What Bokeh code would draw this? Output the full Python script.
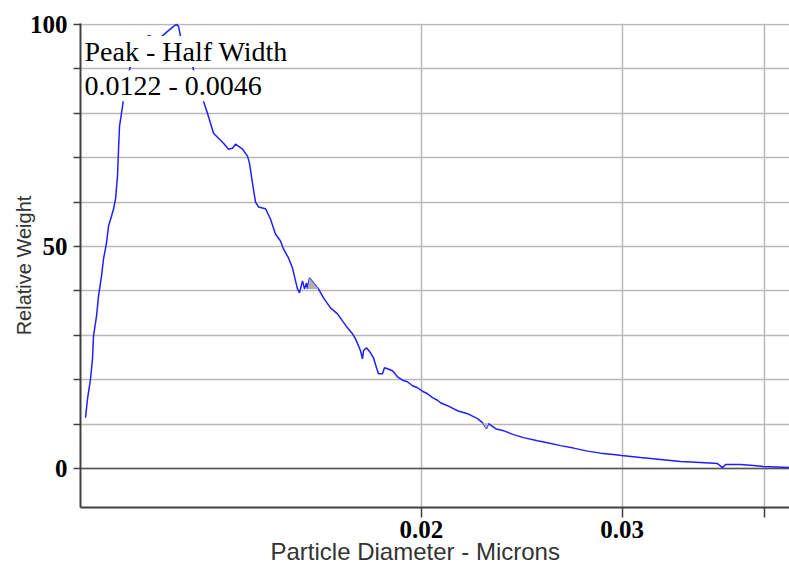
from bokeh.plotting import figure
from bokeh.models import FixedTicker, Label, Span, CustomJSTickFormatter, Title
from bokeh.embed import file_html
from bokeh.resources import INLINE

# Particle diameter (microns) and relative weight
diameter = [
    0.010146, 0.010188, 0.01025, 0.01029, 0.010312, 0.010375, 0.010417, 0.01048, 0.010522, 0.010586,
    0.010629, 0.010694, 0.010737, 0.01078, 0.010824, 0.010846, 0.010868, 0.010934, 0.010956, 0.011067,
    0.011112, 0.011408, 0.011524, 0.011758, 0.011974, 0.01212, 0.012194, 0.012243, 0.012317, 0.012594,
    0.01267, 0.012876, 0.012981, 0.01306, 0.01314, 0.013273, 0.013408, 0.013544, 0.013654, 0.013737,
    0.013933, 0.014073, 0.01413, 0.014216, 0.014303, 0.01439, 0.014595, 0.014742, 0.014891, 0.015043,
    0.015135, 0.015288, 0.015412, 0.015506, 0.015569, 0.015632, 0.015727, 0.015791, 0.015855, 0.015887,
    0.015951, 0.01608, 0.016243, 0.016408, 0.016642, 0.01688, 0.01705, 0.017223, 0.017398, 0.017504,
    0.01761, 0.017682, 0.017753, 0.017789, 0.017897, 0.018043, 0.018152, 0.018262, 0.018336, 0.018485,
    0.01856, 0.018673, 0.018862, 0.019054, 0.019247, 0.019442, 0.01964, 0.019839, 0.02004, 0.020244,
    0.02045, 0.020657, 0.020782, 0.021078, 0.021508, 0.021947, 0.022395, 0.022622, 0.022806, 0.022898,
    0.023224, 0.023602, 0.024084, 0.024576, 0.02528, 0.025796, 0.026482, 0.027188, 0.027968, 0.028712,
    0.029474, 0.029954, 0.031126, 0.03241, 0.033746, 0.035136, 0.036364, 0.036734, 0.036958, 0.038094,
    0.039108, 0.039906, 0.042058,
]
weight = [
    11.46, 15.73, 20.22, 24.72, 29.89, 34.38, 38.88, 43.37, 47.19, 50.79,
    54.61, 56.85, 58.43, 60.67, 65.84, 71.91, 77.08, 81.57, 83.15, 88.99,
    90.56, 96.18, 97.53, 96.63, 98.43, 99.55, 100.0, 99.55, 96.18, 90.56,
    88.31, 82.70, 80.0, 77.75, 75.51, 74.38, 73.26, 71.91, 72.13, 73.03,
    71.91, 70.34, 68.76, 64.27, 60.0, 58.9, 58.5, 56.18, 52.81, 51.24,
    49.44, 47.42, 45.17, 42.25, 40.45, 39.55, 42.25, 40.45, 41.80, 40.45,
    42.92, 41.80, 40.45, 38.43, 36.18, 34.83, 33.26, 31.69, 30.34, 29.21,
    27.64, 26.52, 24.72, 26.52, 27.19, 26.07, 24.94, 22.70, 21.35, 21.35,
    22.70, 22.47, 22.02, 20.67, 19.89, 19.55, 18.65, 18.20, 17.42, 16.85,
    15.96, 15.39, 14.83, 14.16, 13.03, 12.36, 11.24, 10.34, 8.99, 10.11,
    8.99, 8.54, 7.64, 6.97, 6.29, 5.84, 5.17, 4.61, 3.93, 3.48,
    3.15, 2.92, 2.47, 2.02, 1.57, 1.35, 1.12, 0.22, 0.90, 0.90,
    0.67, 0.45, 0.22,
]
x_ticks = [0.02, 0.03, 0.04]
y_ticks = [0, 50, 100]
y_minor = [10, 20, 30, 40, 60, 70, 80, 90]
peak_title = "Peak - Half Width"
peak_value = "0.0122 - 0.0046"
x_title = "Particle Diameter - Microns"
y_title = "Relative Weight"

p = figure(width=789, height=564, x_axis_type="log",
           x_range=(0.010044, 0.042058), y_range=(-8.76, 100.2),
           output_backend="svg", toolbar_location=None,
           min_border_left=80, min_border_right=0, min_border_top=23, min_border_bottom=57)
p.outline_line_color = None
p.background_fill_color = "white"
p.border_fill_color = "white"

# grids
p.xaxis.ticker = FixedTicker(ticks=x_ticks)
p.xgrid.ticker = FixedTicker(ticks=x_ticks)
p.yaxis.ticker = FixedTicker(ticks=y_ticks, minor_ticks=y_minor)
p.ygrid.ticker = FixedTicker(ticks=y_ticks, minor_ticks=y_minor)
for g in (p.xgrid, p.ygrid):
    g.grid_line_color = "#b8b8b8"
    g.grid_line_width = 1.5
p.ygrid.minor_grid_line_color = "#b8b8b8"
p.ygrid.minor_grid_line_width = 1.5
p.add_layout(Span(location=0, dimension="width", line_color="#555555", line_width=1.5, level="underlay"))

# axes
p.xaxis.formatter = CustomJSTickFormatter(code="return tick < 0.035 ? tick.toFixed(2) : '';")
for ax in (p.xaxis, p.yaxis):
    ax.axis_line_color = "#404040"
    ax.axis_line_width = 2
    ax.major_tick_line_color = "#404040"
    ax.major_tick_line_width = 1.5
    ax.major_tick_in = 0
    ax.minor_tick_in = 0
    ax.major_label_text_font = "Liberation Serif"
    ax.major_label_text_font_style = "bold"
    ax.major_label_text_color = "black"
    ax.major_label_text_font_size = "25px"
p.xaxis.major_tick_out = 10
p.xaxis.minor_tick_line_color = None
p.yaxis.major_tick_out = 7
p.yaxis.minor_tick_out = 7
p.yaxis.minor_tick_line_color = "#404040"
p.yaxis.minor_tick_line_width = 1.5
p.yaxis.major_label_standoff = 6
p.xaxis.major_label_standoff = 3

# y axis title
p.yaxis.axis_label = y_title
p.yaxis.axis_label_text_font = "Liberation Sans"
p.yaxis.axis_label_text_font_style = "normal"
p.yaxis.axis_label_text_font_size = "20px"
p.yaxis.axis_label_text_color = "#333333"
p.yaxis.axis_label_standoff = -8

# x axis title (left aligned, shifted to match)
p.add_layout(Title(text=x_title, align="left", offset=190, standoff=-9,
                   text_font="Liberation Sans", text_font_style="normal",
                   text_font_size="24px", text_color="#333333"), "below")

# curve
p.line(diameter, weight, line_color="#2020ff", line_width=1.5)
p.patch(diameter[59:63], weight[59:63], fill_color="#b0b0b0", line_color=None)
p.patch(diameter[97:100], weight[97:100], fill_color="#b0b0b0", line_color=None)

# annotation text
for txt, yv in ((peak_title, 93.9), (peak_value, 86.2)):
    p.add_layout(Label(x=0.010125, y=yv, text=txt, text_font="Liberation Serif",
                       text_font_size="28px", text_color="black", text_baseline="alphabetic",
                       background_fill_color="white", background_fill_alpha=1.0))

open("out.html", "w").write(file_html(p, INLINE))
